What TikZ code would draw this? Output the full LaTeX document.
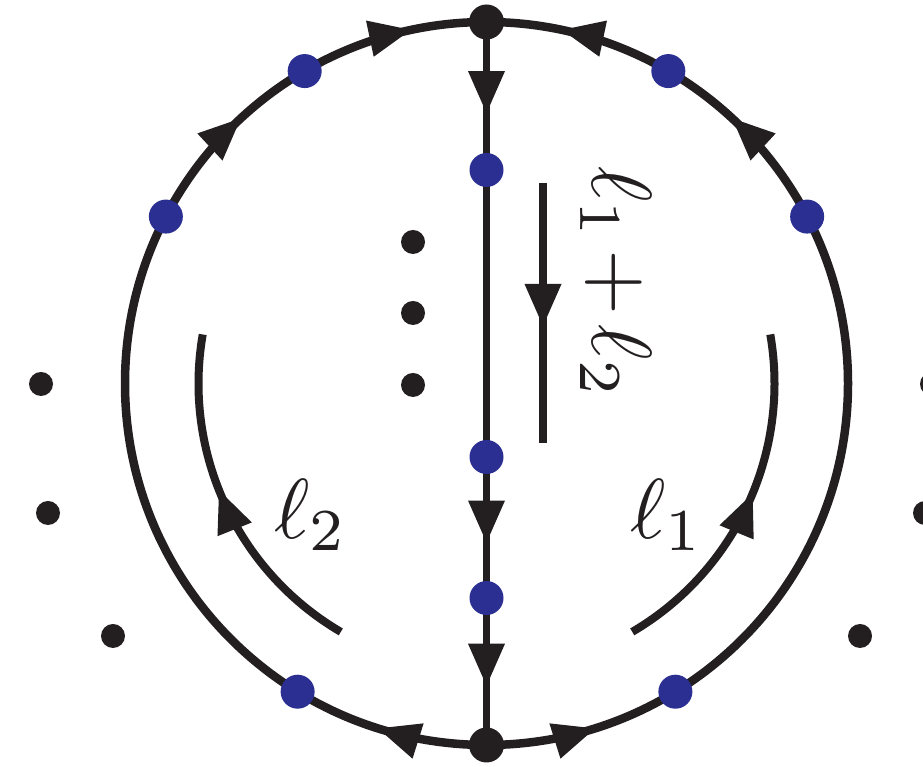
\documentclass[tikz,border=0pt]{standalone}
\usetikzlibrary{decorations.markings,backgrounds}
\definecolor{ink}{RGB}{35,31,32}
\definecolor{dotblue}{RGB}{43,47,145}
\newcommand{\arrtip}{\fill[ink] (0pt,0pt) -- (-42pt,18.5pt) -- (-42pt,-18.5pt) -- cycle;}
\begin{document}
\begin{tikzpicture}[x=1pt,y=1pt,
  wire/.style={draw=ink, line width=8.5pt},
  thinwire/.style={draw=ink, line width=7pt},
  arcwire/.style={draw=ink, line width=8pt},
  ar/.style={postaction={decorate,decoration={markings,mark=at position #1 with {\arrtip}}}},
  vtx/.style={circle, fill=ink, minimum size=35pt, inner sep=0pt},
  bdot/.style={circle, fill=dotblue, minimum size=34pt, inner sep=0pt},
  sdot/.style={circle, fill=ink, minimum size=24pt, inner sep=0pt},
  lbl/.style={text=ink, inner sep=0pt, scale=8.5}]
\useasboundingbox (0,0) rectangle (923,767);
\coordinate (O) at (486.5,383.5);
% vertices
\node[vtx] (T) at (486.5,745) {};
\node[vtx] (B) at (486.5,22) {};
% blue dots on circle
\node[bdot] (p1) at ([shift={(120.2:361.5)}]O) {};
\node[bdot] (p2) at ([shift={(152.5:361.5)}]O) {};
\node[bdot] (p3) at ([shift={(238.5:361.5)}]O) {};
\node[bdot] (p4) at ([shift={(59.8:361.5)}]O) {};
\node[bdot] (p5) at ([shift={(27.5:361.5)}]O) {};
\node[bdot] (p6) at ([shift={(301.5:361.5)}]O) {};
% blue dots on the vertical line
\node[bdot] (q1) at (486.5,597) {};
\node[bdot] (q2) at (486.5,310) {};
\node[bdot] (q3) at (486.5,169) {};
% small black dots
\node[sdot] (o1) at (41,383) {};
\node[sdot] (o2) at (48,254) {};
\node[sdot] (o3) at (113,131) {};
\node[sdot] (o4) at (932,383) {};
\node[sdot] (o5) at (925,254) {};
\node[sdot] (o6) at (860,131) {};
\node[sdot] (i1) at (413,525) {};
\node[sdot] (i2) at (413,454) {};
\node[sdot] (i3) at (413,382) {};
% labels
\node[lbl] (l2) at (311,252) {$\ell_2$};
\node[lbl] (l1) at (667,252) {$\ell_1$};
\node[lbl, rotate=-90] (sum) at (616,484.5) {$\ell_1\mskip-2mu+\mskip-2mu\ell_2$};
% momentum arrows
\coordinate (s1) at (543,584);
\coordinate (s2) at (543,324);
\draw[arcwire, ar=0.55] (s1) -- (s2);
\draw[arcwire, ar=0.545] ([shift={(239.6:288)}]O) arc[start angle=239.6, end angle=170.2, radius=288];
\draw[arcwire, ar=0.535] ([shift={(-59.6:288)}]O) arc[start angle=-59.6, end angle=9.8, radius=288];
\begin{scope}[on background layer]
\draw[wire, ar=0.097, ar=0.762, ar=0.933] (B.center) arc[start angle=270, end angle=90, radius=361.5];
\draw[wire, ar=0.097, ar=0.762, ar=0.933] (B.center) arc[start angle=-90, end angle=90, radius=361.5];
\draw[thinwire, ar=0.126, ar=0.72, ar=0.918] (T.center) -- (B.center);
\end{scope}
\end{tikzpicture}
\end{document}
